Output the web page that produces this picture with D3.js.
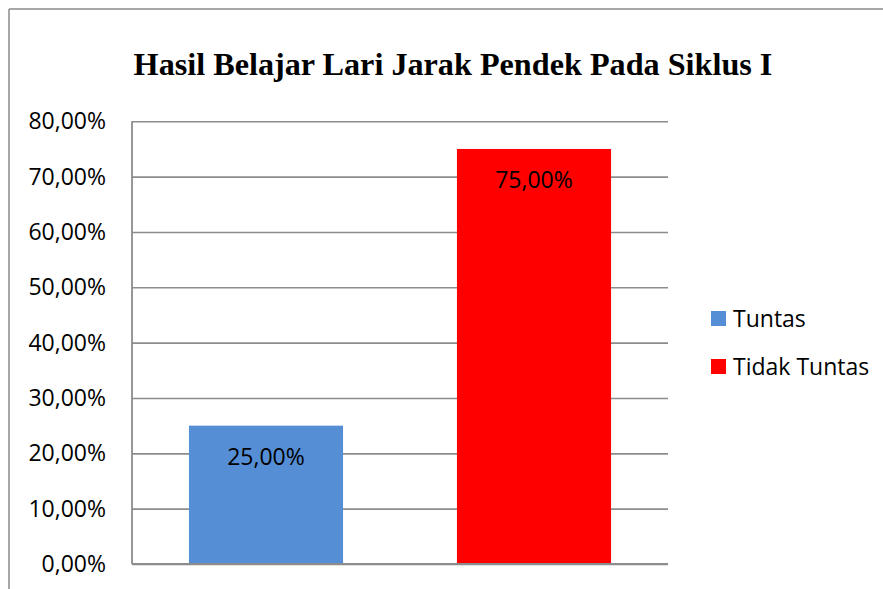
<!DOCTYPE html>
<html>
<head>
<meta charset="utf-8">
<script src="https://cdnjs.cloudflare.com/ajax/libs/d3/7.8.5/d3.min.js"></script>
<style>
  body { margin: 0; background: #fff; }
  svg { display: block; }
</style>
</head>
<body>
<div id="chart"></div>
<script>
var w = 883;
var h = 589;

var title = "Hasil Belajar Lari Jarak Pendek Pada Siklus I";
var series = ["Tuntas", "Tidak Tuntas"];
var values = [25, 75];
var colors = ["#558ED5", "#FF0000"];
var yTicks = [0, 10, 20, 30, 40, 50, 60, 70, 80];

var plot = { left: 132, right: 668, top: 121.3, bottom: 564 };
var gridColor = "#8c8c8c";
var labelFont = "'Open Sans', 'Noto Sans', sans-serif";

var fmt = function (v) { return d3.format(".2f")(v).replace(".", ",") + "%"; };

var svg = d3.select("#chart")
            .append("svg")
            .attr("width", w)
            .attr("height", h);

// outer frame (only top and left edges are visible)
svg.append("line")
    .attr("x1", 9).attr("y1", 9).attr("x2", w).attr("y2", 9)
    .attr("stroke", "#8a8a8a").attr("stroke-width", 1.5);
svg.append("line")
    .attr("x1", 9).attr("y1", 9).attr("x2", 9).attr("y2", h)
    .attr("stroke", "#8a8a8a").attr("stroke-width", 1.5);

// title
svg.append("text")
    .attr("x", 453)
    .attr("y", 75)
    .attr("text-anchor", "middle")
    .style("font-family", "'Liberation Serif', 'Times New Roman', serif")
    .style("font-weight", "bold")
    .style("font-size", "32.2px")
    .text(title);

// scales
var xScale = d3.scaleBand()
    .domain(series)
    .range([plot.left, plot.right])
    .paddingInner(0.425)
    .paddingOuter(0.2125);
var yScale = d3.scaleLinear()
    .domain([0, 80])
    .range([plot.bottom, plot.top]);

// gridlines
var yAxis = d3.axisLeft(yScale)
    .tickValues(yTicks)
    .tickSize(-(plot.right - plot.left))
    .tickPadding(26)
    .tickFormat(fmt);
var gy = svg.append("g")
    .attr("transform", "translate(" + plot.left + ",0)")
    .call(yAxis);
gy.select(".domain").remove();
gy.selectAll(".tick line")
    .attr("stroke", gridColor)
    .attr("stroke-width", 1.6);
gy.selectAll(".tick text")
    .attr("fill", "#000")
    .style("font-family", labelFont)
    .style("font-size", "23px");

// bars
svg.selectAll(".bar")
    .data(values)
    .enter()
    .append("rect")
    .attr("class", "bar")
    .attr("x", function (d, i) { return xScale(series[i]); })
    .attr("y", function (d) { return yScale(d); })
    .attr("width", xScale.bandwidth())
    .attr("height", function (d) { return yScale(0) - yScale(d); })
    .attr("fill", function (d, i) { return colors[i]; });

// axis lines
svg.append("line")
    .attr("x1", plot.left).attr("y1", plot.top)
    .attr("x2", plot.left).attr("y2", plot.bottom)
    .attr("stroke", gridColor).attr("stroke-width", 1.8);
svg.append("line")
    .attr("x1", plot.left).attr("y1", plot.bottom)
    .attr("x2", plot.right).attr("y2", plot.bottom)
    .attr("stroke", gridColor).attr("stroke-width", 1.8);

// data labels
svg.selectAll(".val")
    .data(values)
    .enter()
    .append("text")
    .attr("class", "val")
    .attr("x", function (d, i) { return xScale(series[i]) + xScale.bandwidth() / 2; })
    .attr("y", function (d) { return yScale(d) + 39; })
    .attr("text-anchor", "middle")
    .style("font-family", labelFont)
    .style("font-size", "23px")
    .text(function (d) { return fmt(d); });

// legend
var legend = svg.selectAll(".legend")
    .data(series)
    .enter()
    .append("g")
    .attr("class", "legend")
    .attr("transform", function (d, i) { return "translate(711," + (311 + i * 48) + ")"; });
legend.append("rect")
    .attr("width", 15)
    .attr("height", 15)
    .attr("fill", function (d, i) { return colors[i]; });
legend.append("text")
    .attr("x", 22)
    .attr("y", 16)
    .style("font-family", labelFont)
    .style("font-size", "23px")
    .text(function (d) { return d; });
</script>
</body>
</html>
